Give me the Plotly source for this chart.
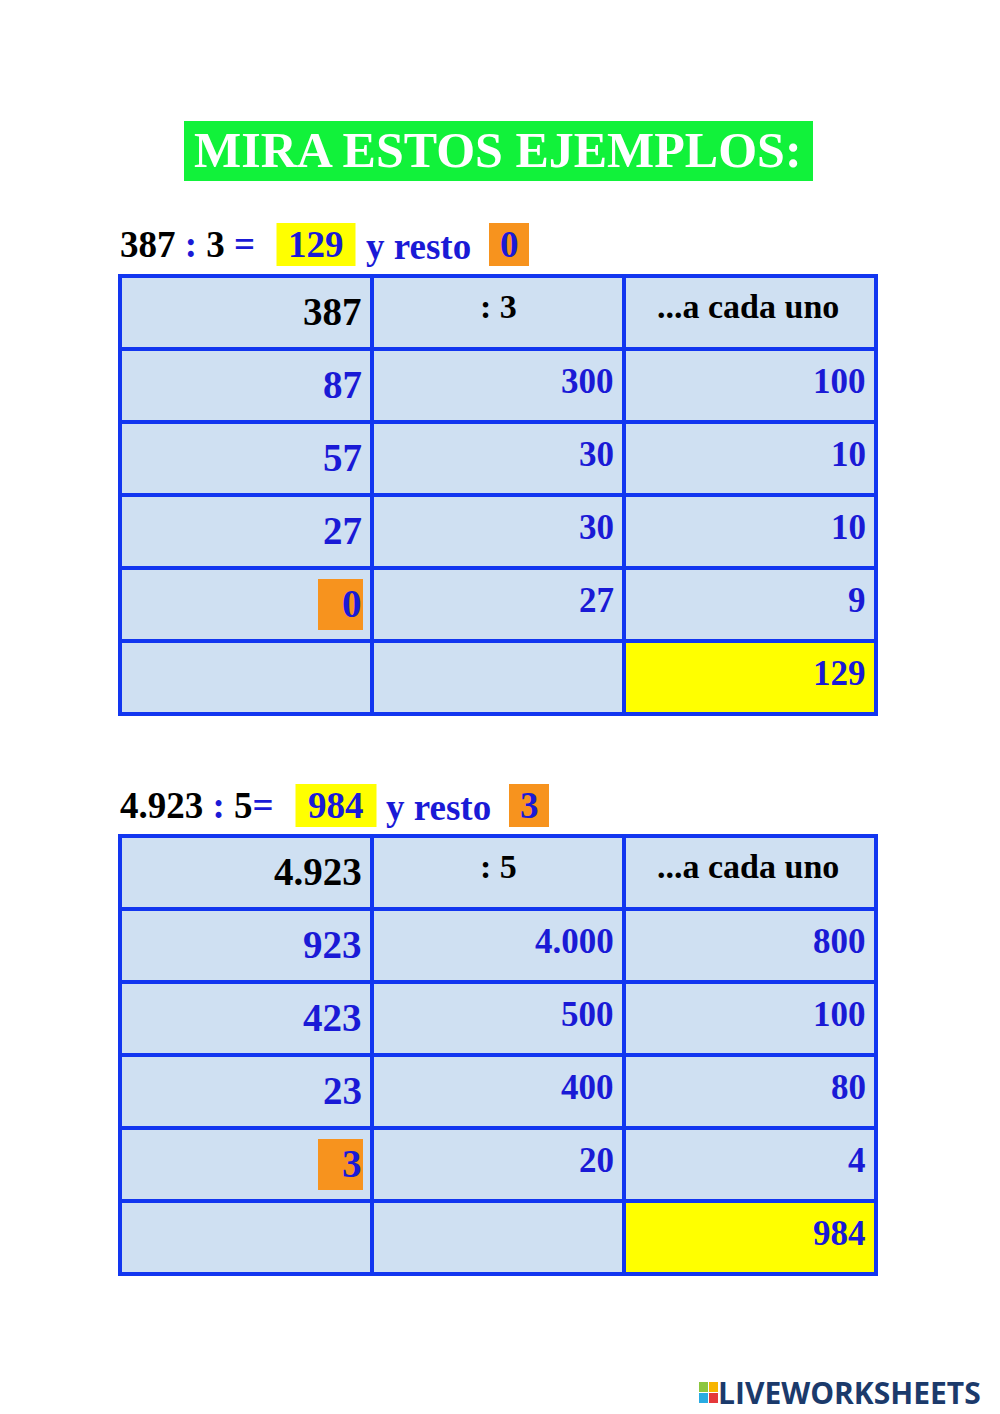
import plotly.graph_objects as go

t1_c0 = ["387", "87", "57", "27", "0", ""]
t1_c1 = [": 3", "300", "30", "30", "27", ""]
t1_c2 = ["...a cada uno", "100", "10", "10", "9", "129"]
t2_c0 = ["4.923", "923", "423", "23", "3", ""]
t2_c1 = [": 5", "4.000", "500", "400", "20", ""]
t2_c2 = ["...a cada uno", "800", "100", "80", "4", "984"]

BLUE = "#1a1ad6"
BORDER = "#1236f0"
FILL = "#cfe0f2"
ORANGE = "#f7931e"
YELLOW = "#ffff00"
SERIF = "Liberation Serif"

def F(size, color, family=SERIF):
    return dict(family=family, size=size, color=color, weight=700)

fig = go.Figure()
shapes, ann = [], []
xs = [120, 372, 624, 876]

def table(top, c0, c1, c2):
    rh = 73
    for r in range(6):
        y0, y1 = top + r * rh, top + (r + 1) * rh
        for c in range(3):
            fill = YELLOW if (r == 5 and c == 2) else FILL
            shapes.append(dict(type="rect", x0=xs[c], x1=xs[c + 1], y0=y0, y1=y1,
                               fillcolor=fill, line=dict(color=BORDER, width=4), layer="below"))
        yc = (y0 + y1) / 2
        if r == 4:
            shapes.append(dict(type="rect", x0=318, x1=363, y0=y0 + 11, y1=y1 - 11,
                               fillcolor=ORANGE, line=dict(width=0), layer="below"))
        col0color = "black" if r == 0 else BLUE
        ann.append(dict(x=364, y=yc - 1, text="<b>%s</b>" % c0[r], xanchor="right", yanchor="middle",
                        showarrow=False, font=F(39, col0color)))
        if r == 0:
            ann.append(dict(x=498, y=yc - 6, text="<b>%s</b>" % c1[r], xanchor="center", yanchor="middle",
                            showarrow=False, font=F(34, "black")))
            ann.append(dict(x=748, y=yc - 6, text="<b>%s</b>" % c2[r], xanchor="center", yanchor="middle",
                            showarrow=False, font=F(34, "black")))
        else:
            ann.append(dict(x=616, y=yc - 4, text="<b>%s</b>" % c1[r], xanchor="right", yanchor="middle",
                            showarrow=False, font=F(35, BLUE)))
            ann.append(dict(x=868, y=yc - 4, text="<b>%s</b>" % c2[r], xanchor="right", yanchor="middle",
                            showarrow=False, font=F(35, BLUE)))

table(276, t1_c0, t1_c1, t1_c2)
table(836, t2_c0, t2_c1, t2_c2)

# title
shapes.append(dict(type="rect", x0=184, x1=813, y0=121, y1=181, fillcolor="#11f23a",
                   line=dict(width=0), layer="below"))
ann.append(dict(x=498, y=150, text="<b>MIRA ESTOS EJEMPLOS:</b>", xanchor="center", yanchor="middle",
                showarrow=False, font=F(50, "white")))

def subtitle(yc, lhs, divisor, eq_space, q, qx, qw, rx, rem, remx):
    shapes.append(dict(type="rect", x0=qx - qw / 2, x1=qx + qw / 2, y0=yc - 22, y1=yc + 21,
                       fillcolor=YELLOW, line=dict(width=0), layer="below"))
    shapes.append(dict(type="rect", x0=remx - 20, x1=remx + 20, y0=yc - 22, y1=yc + 21,
                       fillcolor=ORANGE, line=dict(width=0), layer="below"))
    ann.append(dict(x=118, y=yc - 1,
                    text="<b>%s <span style='color:%s'>:</span> %s%s<span style='color:%s'>=</span></b>"
                    % (lhs, BLUE, divisor, eq_space, BLUE),
                    xanchor="left", yanchor="middle", showarrow=False, font=F(37, "black")))
    ann.append(dict(x=qx, y=yc - 1, text="<b>%s</b>" % q, xanchor="center", yanchor="middle", showarrow=False,
                    font=F(37, BLUE)))
    ann.append(dict(x=rx, y=yc + 1, text="<b>y resto</b>", xanchor="left", yanchor="middle", showarrow=False,
                    font=F(37, BLUE)))
    ann.append(dict(x=remx, y=yc - 1, text="<b>%s</b>" % rem, xanchor="center", yanchor="middle", showarrow=False,
                    font=F(37, BLUE)))

subtitle(245, "387", "3", " ", "129", 316, 79, 364, "0", 509)
subtitle(806, "4.923", "5", "", "984", 336, 81, 384, "3", 529)

# logo
sq = [("#8cc63f", 699, 1382), ("#f7b500", 709, 1382), ("#29abe2", 699, 1393), ("#e5383b", 709, 1393)]
for col, x0, y0 in sq:
    shapes.append(dict(type="rect", x0=x0, x1=x0 + 9, y0=y0, y1=y0 + 10, fillcolor=col, line=dict(width=0)))
ann.append(dict(x=716, y=1392, text="<b>LIVEWORKSHEETS</b>", xanchor="left", yanchor="middle", showarrow=False,
                font=dict(family="Open Sans", size=30, color="#1b3a6b", weight=800)))

OFF = 8
fig.update_layout(width=1000, height=1414, margin=dict(l=0, r=0, t=0, b=0),
                  paper_bgcolor="white", plot_bgcolor="white",
                  xaxis=dict(range=[OFF, 1000 + OFF], visible=False, fixedrange=True),
                  yaxis=dict(range=[1414 + OFF, OFF], visible=False, fixedrange=True),
                  shapes=shapes, annotations=ann, showlegend=False)
fig.write_html("out.html")
